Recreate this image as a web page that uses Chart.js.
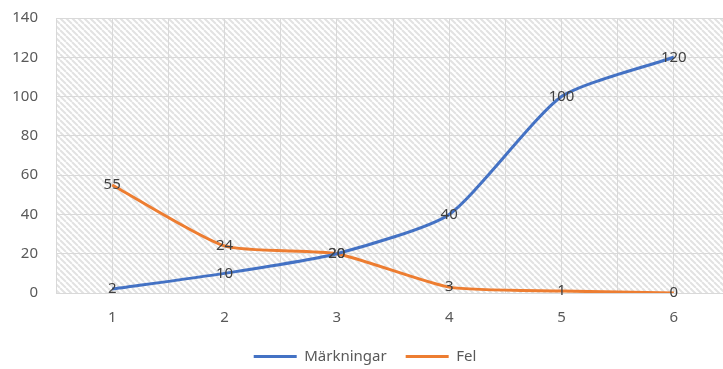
<!DOCTYPE html>
<html>
<head>
<meta charset="utf-8">
<script src="https://cdn.jsdelivr.net/npm/chart.js@4/dist/chart.umd.min.js"></script>
<style>
  html, body { margin: 0; padding: 0; background: #fff; overflow: hidden; }
  #wrap { width: 756px; height: 369px; position: relative; }
</style>
</head>
<body>
<div id="wrap"><canvas id="chart"></canvas></div>
<script>
// data
const categories = [1, 2, 3, 4, 5, 6];
const markningar = [2, 10, 20, 40, 100, 120];
const fel = [55, 24, 20, 3, 1, 0];
const yMin = 0, yMax = 140, yStep = 20;

const BLUE = '#4472C4';
const ORANGE = '#ED7D31';
const GRID = '#d9d9d9';

Chart.defaults.font.family = '"Noto Sans", sans-serif';
Chart.defaults.font.size = 15;
Chart.defaults.color = '#595959';

// hatch pattern for plot area (downward diagonal)
function makeHatch(ctx) {
    const c = document.createElement('canvas');
    c.width = 6; c.height = 6;
    const g = c.getContext('2d');
    g.fillStyle = '#fff';
    g.fillRect(0, 0, 6, 6);
    g.strokeStyle = '#e2e2e2';
    g.lineWidth = 2;
    for (const k of [-6, 0, 6]) {
        g.beginPath();
        g.moveTo(k, 0);
        g.lineTo(k + 6, 6);
        g.stroke();
    }
    return ctx.createPattern(c, 'repeat');
}

const hatchPlugin = {
    id: 'hatch',
    beforeDraw(chart) {
        const { ctx, chartArea: a } = chart;
        ctx.save();
        ctx.fillStyle = makeHatch(ctx);
        ctx.fillRect(a.left, a.top, a.right - a.left, a.bottom - a.top);
        ctx.restore();
    }
};

// value labels centred on each point
const labelPlugin = {
    id: 'pointLabels',
    afterDatasetsDraw(chart) {
        const ctx = chart.ctx;
        ctx.save();
        ctx.font = '15px "Noto Sans", sans-serif';
        ctx.fillStyle = '#404040';
        ctx.textAlign = 'center';
        ctx.textBaseline = 'middle';
        chart.data.datasets.forEach((ds, i) => {
            chart.getDatasetMeta(i).data.forEach((pt, j) => {
                ctx.fillText(String(ds.data[j].y), pt.x, pt.y);
            });
        });
        ctx.restore();
    }
};

const toPoints = (vals) => categories.map((c, i) => ({ x: c, y: vals[i] }));

new Chart(document.getElementById('chart'), {
    type: 'line',
    data: {
        datasets: [
            { label: 'Märkningar', data: toPoints(markningar), borderColor: BLUE, backgroundColor: BLUE, borderWidth: 3, pointRadius: 0, tension: 0.2 },
            { label: 'Fel', data: toPoints(fel), borderColor: ORANGE, backgroundColor: ORANGE, borderWidth: 3, pointRadius: 0, tension: 0.2 }
        ]
    },
    options: {
        responsive: true,
        maintainAspectRatio: false,
        animation: false,
        layout: { padding: { top: 18, right: 26, left: 0, bottom: -5 } },
        plugins: {
            tooltip: { enabled: false },
            legend: {
                position: 'bottom',
                labels: {
                    usePointStyle: true,
                    pointStyle: 'line',
                    pointStyleWidth: 43,
                    boxHeight: 15,
                    padding: 19,
                    color: '#595959'
                }
            }
        },
        scales: {
            x: {
                type: 'linear',
                min: 0.5,
                max: 6.5,
                grid: { color: GRID, drawTicks: false },
                border: { color: GRID },
                ticks: {
                    stepSize: 0.5,
                    padding: 16,
                    maxRotation: 0,
                    autoSkip: false,
                    callback: (v) => Number.isInteger(v) ? String(v) : ''
                },
                afterFit: (s) => { s.height = 37; }
            },
            y: {
                min: yMin,
                max: yMax,
                grid: { color: GRID, drawTicks: false },
                border: { display: false },
                ticks: { stepSize: yStep, padding: 18 },
                afterFit: (s) => { s.width = 56; s.paddingTop = 0; s.paddingBottom = 0; }
            }
        }
    },
    plugins: [hatchPlugin, labelPlugin]
});
</script>
</body>
</html>
